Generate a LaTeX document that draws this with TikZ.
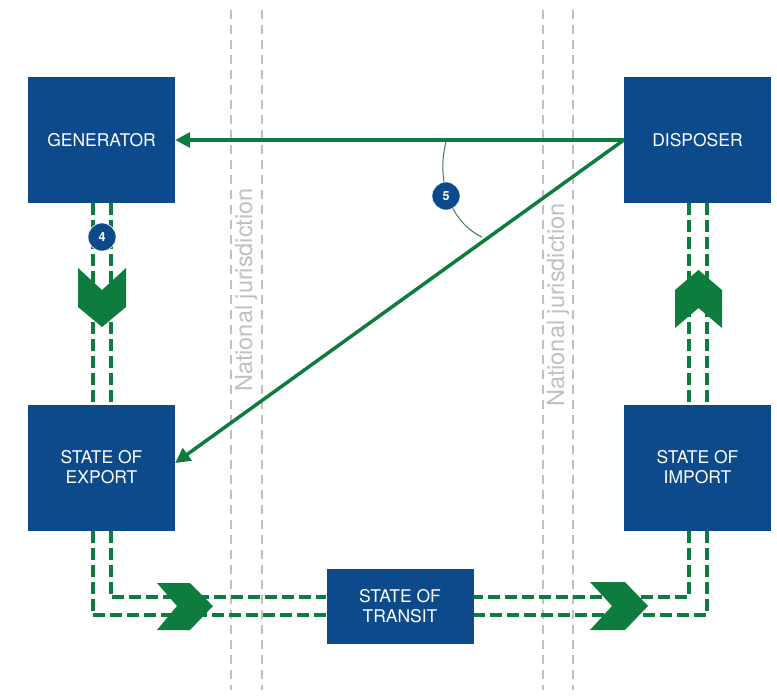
\documentclass[tikz,border=0pt]{standalone}
\usepackage{fontspec}
\setmainfont{TeX Gyre Heros}
\usetikzlibrary{arrows.meta}

\definecolor{boxblue}{RGB}{13,74,140}
\definecolor{flowgreen}{RGB}{14,124,62}
\definecolor{bordergray}{RGB}{192,192,192}

\begin{document}
\begin{tikzpicture}[x=1pt, y=-1pt,
  state/.style={fill=boxblue, text=white, align=center, inner sep=0pt,
    minimum width=147pt, minimum height=126pt,
    font=\fontsize{17.5}{20}\selectfont},
  badge/.style={circle, fill=boxblue, draw=white, line width=0.6pt,
    text=white, minimum size=28pt, inner sep=0pt,
    font=\fontsize{12.5}{12.5}\selectfont\bfseries},
  border/.style={bordergray, line width=1.8pt, dash pattern=on 9pt off 6pt},
  borderlabel/.style={bordergray, rotate=90, font=\fontsize{23.5}{23.5}\selectfont},
  shipment/.style={flowgreen, line width=4pt, dash pattern=on 12pt off 5pt},
  chevron/.style={fill=flowgreen},
  notice/.style={flowgreen, line width=3.5pt,
    -{Triangle[length=15pt,width=15pt]}},
  anglemark/.style={draw=flowgreen!60!gray, line width=1pt}
]
\useasboundingbox (0,0) rectangle (777,697);

\def\xl{101.5}
\def\xr{697.5}
\def\xm{400}
\def\yt{140}
\def\yb{467.5}
\def\ym{606}

% national borders
\node[borderlabel] (nj1) at (246,290) {National jurisdiction};
\node[borderlabel] (nj2) at (558,305) {National jurisdiction};
\foreach \x in {231,262,543,573}
  \draw[border] (\x,10) -- (\x,690);

% states
\node[state] (gen) at (\xl,\yt) {GENERATOR};
\node[state] (disp) at (\xr,\yt) {DISPOSER};
\node[state] (exp) at (\xl,\yb) {STATE OF\\EXPORT};
\node[state] (imp) at (\xr,\yb) {STATE OF\\IMPORT};
\node[state, minimum height=75pt] (trans) at (\xm,\ym) {STATE OF\\TRANSIT};

% movement of the waste
\draw[shipment] ([xshift=-9pt]gen.south) -- ([xshift=-9pt]exp.north);
\draw[shipment] ([xshift=9pt]gen.south) -- ([xshift=9pt]exp.north);
\draw[shipment] ([xshift=-9pt]exp.south) |- ([yshift=-9pt]trans.west);
\draw[shipment] ([xshift=9pt]exp.south) |- ([yshift=9pt]trans.west);
\draw[shipment] ([xshift=-9pt]imp.south) |- ([yshift=9pt]trans.east);
\draw[shipment] ([xshift=9pt]imp.south) |- ([yshift=-9pt]trans.east);
\draw[shipment] ([xshift=-9pt]disp.south) -- ([xshift=-9pt]imp.north);
\draw[shipment] ([xshift=9pt]disp.south) -- ([xshift=9pt]imp.north);

\fill[chevron] (78,268) -- (78,307) -- (102,327) -- (126,307) -- (126,268) -- (102,290) -- cycle;
\fill[chevron] (675,328) -- (675,290) -- (698.5,270) -- (722,290) -- (722,328) -- (698.5,308) -- cycle;
\fill[chevron] (157,583) -- (190,583) -- (213,606) -- (190,630) -- (157,630) -- (177,606) -- cycle;
\fill[chevron] (590,582) -- (625,582) -- (648,606) -- (625,630) -- (590,630) -- (612,606) -- cycle;

% notifications
\draw[notice] (disp.west) -- (gen.east);
\draw[notice] (disp.west) -- ([yshift=4.5pt]exp.east);

\coordinate (m1) at (446,142);
\coordinate (m2) at (482,237);
\draw[anglemark] (m1) .. controls (436,180) and (450,222) .. (m2);

\node[badge] (b4) at (102,237) {4};
\node[badge] (b5) at (446,196) {5};

\end{tikzpicture}
\end{document}
